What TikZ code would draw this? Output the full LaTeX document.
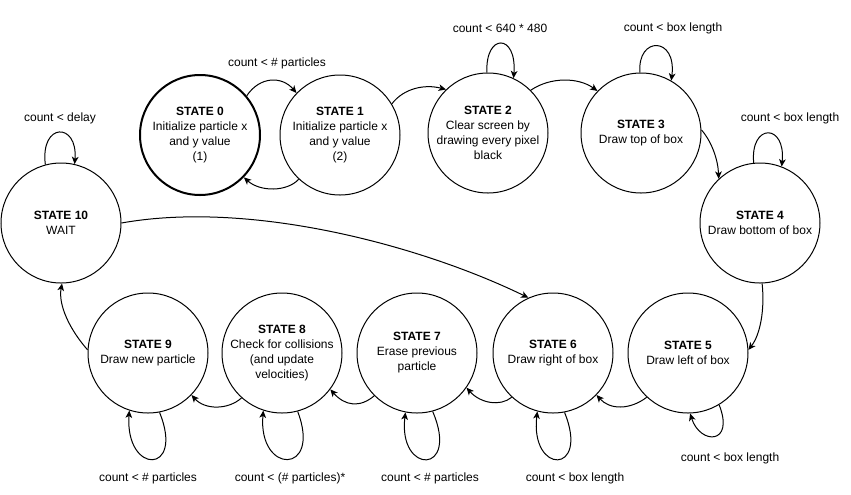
\documentclass[tikz,border=0pt]{standalone}
\usepackage{fontspec}
\setmainfont{Liberation Sans}
\usetikzlibrary{arrows.meta}
\begin{document}
\begin{tikzpicture}[x=0.75pt,y=-0.75pt,
  stnode/.style={circle,draw,line width=0.75pt,minimum size=90pt,inner sep=0pt,align=center,font=\fontsize{9}{11.25}\selectfont},
  initstate/.style={stnode,line width=1.5pt},
  arr/.style={line width=0.75pt,-{Stealth[length=5.5pt,width=5pt,inset=1.5pt]}},
  lbl/.style={font=\fontsize{9}{11}\selectfont,inner sep=1pt}]
\useasboundingbox (0,0) rectangle (851,494);

\node[initstate] (s0) at (200,135) {\textbf{STATE 0}\\Initialize particle x\\and y value\\(1)};
\node[stnode] (s1) at (340,135) {\textbf{STATE 1}\\Initialize particle x\\and y value\\(2)};
\node[stnode] (s2) at (488,133) {\textbf{STATE 2}\\Clear screen by\\drawing every pixel\\black};
\node[stnode] (s3) at (641,133) {\textbf{STATE 3}\\Draw top of box};
\node[stnode] (s4) at (760,223) {\textbf{STATE 4}\\Draw bottom of box};
\node[stnode] (s5) at (688,353) {\textbf{STATE 5}\\Draw left of box};
\node[stnode] (s6) at (553,353) {\textbf{STATE 6}\\Draw right of box};
\node[stnode] (s7) at (417,353) {\textbf{STATE 7}\\Erase previous\\particle};
\node[stnode] (s8) at (282,353) {\textbf{STATE 8}\\Check for collisions\\(and update\\velocities)};
\node[stnode] (s9) at (148,353) {\textbf{STATE 9}\\Draw new particle};
\node[stnode] (s10) at (61,223) {\textbf{STATE 10}\\WAIT};

\draw[arr] (s0.40) .. controls (260,76) and (282,76) .. (s1.136);
\draw[arr] (s1.-133) .. controls (287,192) and (260,192) .. (s0.-44);
\draw[arr] (s1.31) .. controls (404,88) and (425,84) .. (s2.134);
\draw[arr] (s2.91) .. controls (485,33) and (517,33) .. (s2.65);
\draw[arr] (s2.45) .. controls (550,77) and (578,77) .. (s3.136);
\draw[arr] (s3.91) .. controls (637,36) and (677,36) .. (s3.60);
\draw[arr] (s3.3) .. controls (712,142) and (718,160) .. (s4.133);
\draw[arr] (s4.96) .. controls (750,123) and (786,123) .. (s4.69);
\draw[arr] (s4.-88) .. controls (765,310) and (760,335) .. (s5.3);
\draw[arr] (s5.-59) .. controls (735,445) and (700,445) .. (s5.-88);
\draw[arr] (s5.-133) .. controls (630,410) and (610,410) .. (s6.-44);
\draw[arr] (s6.-79) .. controls (590,475) and (530,475) .. (s6.-105);
\draw[arr] (s6.-133) .. controls (500,407) and (480,403) .. (s7.-35);
\draw[arr] (s7.-75) .. controls (460,475) and (398,475) .. (s7.-101);
\draw[arr] (s7.-135) .. controls (360,408) and (345,406) .. (s8.-37);
\draw[arr] (s8.-75) .. controls (322,475) and (258,475) .. (s8.-108);
\draw[arr] (s8.-132) .. controls (228,410) and (205,410) .. (s9.-44);
\draw[arr] (s9.-79) .. controls (185,475) and (125,475) .. (s9.-108);
\draw[arr] (s9.177) .. controls (70,330) and (58,305) .. (s10.-89);
\draw[arr] (s10.105) .. controls (40,122) and (78,122) .. (s10.77);
\draw[arr] (s10.0) .. controls (250,200) and (420,245) .. (s6.114);

\node[lbl] (l01) at (277,63) {count < \# particles};
\node[lbl] (l22) at (500,28) {count < 640 * 480};
\node[lbl] (l33) at (673,28) {count < box length};
\node[lbl] (l44) at (790,118) {count < box length};
\node[lbl] (l1010) at (60,118) {count < delay};
\node[lbl] (l99) at (148,478) {count < \# particles};
\node[lbl] (l88) at (290,478) {count < (\# particles)*};
\node[lbl] (l77) at (430,478) {count < \# particles};
\node[lbl] (l66) at (575,478) {count < box length};
\node[lbl] (l55) at (730,458) {count < box length};
\end{tikzpicture}
\end{document}
